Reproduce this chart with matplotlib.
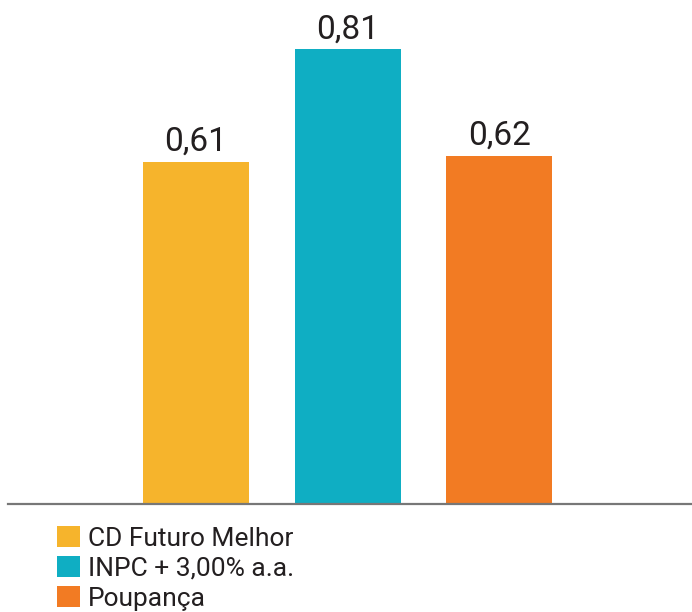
import matplotlib

matplotlib.use("Agg")
import matplotlib.pyplot as plt

# data
categories = ["CD Futuro Melhor", "INPC + 3,00% a.a.", "Poupança"]
values = [0.61, 0.81, 0.62]
value_labels = ["0,61", "0,81", "0,62"]
colors = ["#F6B42C", "#0FAEC3", "#F27B23"]

plt.rcParams["font.family"] = ["Roboto", "DejaVu Sans"]

fig = plt.figure(figsize=(6.92, 6.12), dpi=100)
ax = fig.add_axes([8 / 692, 108 / 612, 684 / 692, 477 / 612])

x = list(range(len(categories)))
bars = ax.bar(x, values, width=0.70, color=colors, label=categories, zorder=2)
for bar, text in zip(bars, value_labels):
    ax.annotate(text, (bar.get_x() + bar.get_width() / 2, bar.get_height()),
                xytext=(0, 3), textcoords="offset points",
                ha="center", va="bottom", fontsize=24, color="#231F20")

ax.set_xlim(-1.24, 3.27)
ax.set_ylim(0, 0.85)
for side in ["top", "left", "right"]:
    ax.spines[side].set_visible(False)
ax.spines["bottom"].set_color("#777777")
ax.spines["bottom"].set_linewidth(1.6)
ax.spines["bottom"].set_zorder(3)
ax.set_xticks([])
ax.set_yticks([])

fig.legend(handles=list(bars), labels=categories, loc="upper left",
           bbox_to_anchor=(44 / 692, 1 - 513 / 612), frameon=False,
           fontsize=19, handlelength=0.85, handleheight=0.85,
           handletextpad=0.3, labelspacing=0.2, borderpad=0,
           labelcolor="#231F20")

fig.savefig("out.png", dpi=100)
